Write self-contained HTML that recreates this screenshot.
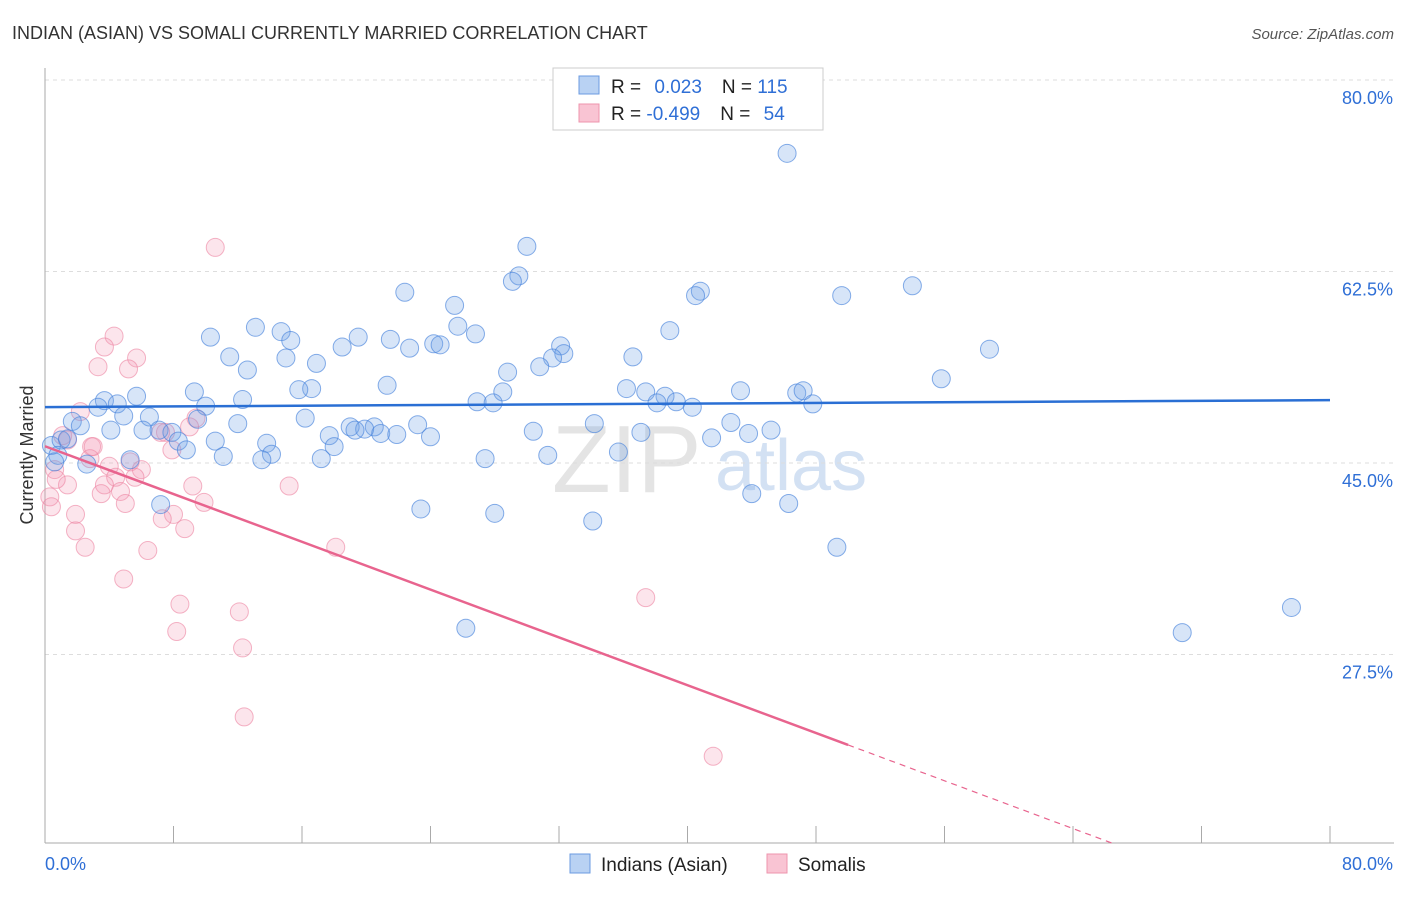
<!DOCTYPE html>
<html><head><meta charset="utf-8"><style>
body{margin:0;background:#fff;font-family:"Liberation Sans",sans-serif;}
svg text{font-family:"Liberation Sans",sans-serif;}
</style></head><body>
<svg id="chart" width="1406" height="892" xmlns="http://www.w3.org/2000/svg">
<text x="12" y="39" font-size="18" fill="#333">INDIAN (ASIAN) VS SOMALI CURRENTLY MARRIED CORRELATION CHART</text>
<text x="1394" y="39" font-size="15" fill="#555" font-style="italic" text-anchor="end">Source: ZipAtlas.com</text>
<text x="552" y="492" font-size="96" fill="#e4e4e4" font-family="Liberation Serif">ZIP</text>
<text x="715" y="490" font-size="72" fill="#d3e1f3">atlas</text>
<g id="grid"></g>
<g id="axes"></g>
<g id="marks"></g>
<text transform="translate(33,455) rotate(-90)" font-size="18" fill="#333" text-anchor="middle">Currently Married</text>
<g>
<rect x="553" y="68" width="270" height="62" fill="#fff" stroke="#ccc"/>
<rect x="579" y="76" width="20" height="18" fill="#b9d2f3" stroke="#6b9be0"/>
<rect x="579" y="104" width="20" height="18" fill="#f9c4d3" stroke="#ee94ae"/>
<text x="611" y="93" font-size="19" fill="#222">R = <tspan fill="#2f6fd6" dx="8">0.023</tspan><tspan dx="20" fill="#222">N = </tspan><tspan fill="#2f6fd6">115</tspan></text>
<text x="611" y="120" font-size="19" fill="#222">R = <tspan fill="#2f6fd6">-0.499</tspan><tspan dx="20" fill="#222">N = </tspan><tspan fill="#2f6fd6" dx="8">54</tspan></text>
</g>
<g>
<rect x="570" y="854" width="20" height="19" fill="#b9d2f3" stroke="#6b9be0"/>
<text x="601" y="871" font-size="19" fill="#222">Indians (Asian)</text>
<rect x="767" y="854" width="20" height="19" fill="#f9c4d3" stroke="#ee94ae"/>
<text x="798" y="871" font-size="19" fill="#222">Somalis</text>
</g>
</svg>
<script>
const yTicks=[80,62.5,45,27.5];
const yTickLabels=["80.0%","62.5%","45.0%","27.5%"];
const xTickCount=10;
const blueX=[46.2,30.0,29.5,29.1,54.0,40.8,40.5,49.6,22.4,25.5,13.1,25.7,14.7,38.9,10.3,19.5,26.8,21.5,15.3,18.5,24.2,24.6,22.7,32.1,58.8,32.3,31.6,36.6,11.5,15.0,16.9,30.8,12.6,28.8,55.8,21.3,16.6,15.8,36.2,9.3,43.3,37.4,28.5,46.8,47.2,38.6,5.7,12.3,3.7,26.9,38.1,39.3,27.9,47.8,4.5,10.0,3.3,40.3,4.9,6.5,16.2,9.5,42.7,34.2,12.0,23.2,1.7,2.2,19.0,20.5,19.9,19.3,4.1,6.1,7.1,45.2,30.4,7.9,37.1,43.8,20.9,21.9,17.7,24.0,41.5,10.6,8.3,13.8,18.0,8.8,35.7,14.1,11.1,31.3,27.4,17.2,13.5,5.3,2.6,0.4,1.0,1.4,0.8,0.6,44.0,46.3,23.4,28.0,34.1,7.2,49.3,26.2,70.8,77.6];
const blueY=[73.3,64.8,62.1,61.6,61.2,60.7,60.3,60.3,60.6,59.4,57.4,57.5,57.0,57.1,56.5,56.5,56.8,56.3,56.2,55.6,55.9,55.8,55.5,55.7,55.4,55.0,54.6,54.7,54.7,54.6,54.1,53.8,53.5,53.3,52.7,52.1,51.8,51.7,51.8,51.5,51.6,51.5,51.5,51.4,51.6,51.1,51.1,50.8,50.7,50.6,50.5,50.6,50.5,50.4,50.4,50.2,50.1,50.1,49.3,49.2,49.1,49.0,48.7,48.6,48.6,48.5,48.8,48.4,48.3,48.3,48.1,48.0,48.0,48.0,48.0,48.0,47.9,47.8,47.8,47.7,47.7,47.6,47.5,47.4,47.3,47.0,47.0,46.8,46.5,46.2,46.0,45.8,45.6,45.7,45.4,45.4,45.3,45.3,44.9,46.6,47.1,47.2,45.7,45.1,42.2,41.3,40.8,40.4,39.7,41.2,37.3,29.9,29.5,31.8];
const pinkX=[10.6,4.3,3.7,5.7,3.3,5.2,2.2,9.4,9.0,7.5,7.2,1.1,1.4,2.9,7.9,2.8,5.3,4.0,6.0,4.4,5.6,0.6,1.4,3.7,9.2,15.2,4.7,3.5,0.3,9.9,5.0,0.4,1.9,8.0,7.3,1.9,8.7,2.5,18.1,6.4,4.9,8.4,12.1,37.4,8.2,12.3,12.4,41.6,3.0,0.7];
const pinkY=[64.7,56.6,55.6,54.6,53.8,53.6,49.7,49.1,48.3,47.8,47.8,47.5,47.1,46.5,46.2,45.4,45.1,44.7,44.4,43.7,43.7,44.4,43.0,43.0,42.9,42.9,42.4,42.2,41.9,41.4,41.3,41.0,40.3,40.3,39.9,38.8,39.0,37.3,37.3,37.0,34.4,32.1,31.4,32.7,29.6,28.1,21.8,18.2,46.5,43.5];
const NS="http://www.w3.org/2000/svg";
const X0=45,X1=1330,Ytop=80,Ybot=843;
function sx(v){return X0+v/80*(X1-X0);}
function sy(v){return 80+(80-v)*(191.5/17.5);}
function mk(tag,attrs,parent){const e=document.createElementNS(NS,tag);for(const k in attrs)e.setAttribute(k,attrs[k]);parent.appendChild(e);return e;}
const grid=document.getElementById('grid'),axes=document.getElementById('axes'),marks=document.getElementById('marks');
yTicks.forEach((t,i)=>{
 const l=mk('line',{x1:X0,x2:1394,y1:sy(t),y2:sy(t),stroke:'#ddd','stroke-dasharray':'4,4'},grid);
 
 
 const tx=mk('text',{x:1393,y:sy(t)+24,'font-size':18,fill:'#2f6fd6','text-anchor':'end'},axes);
 tx.textContent=yTickLabels[i];
 
 
});
const ax=mk('line',{x1:X0,x2:1394,y1:Ybot,y2:Ybot,stroke:'#aaa'},axes);


const ay=mk('line',{x1:X0,x2:X0,y1:68,y2:Ybot,stroke:'#aaa'},axes);


for(let i=1;i<=xTickCount;i++){
 const v=i*80/xTickCount;
 const t=mk('line',{x1:sx(v),x2:sx(v),y1:Ybot,y2:Ybot-17,stroke:'#aaa'},axes);
 
 
}
const xl=mk('text',{x:45,y:870,'font-size':18,fill:'#2f6fd6'},axes);xl.textContent='0.0%';


const xr=mk('text',{x:1393,y:870,'font-size':18,fill:'#2f6fd6','text-anchor':'end'},axes);xr.textContent='80.0%';


function fit(xs,ys){const n=xs.length;let mx=0,my=0;for(let i=0;i<n;i++){mx+=xs[i];my+=ys[i];}mx/=n;my/=n;let a=0,b=0;for(let i=0;i<n;i++){a+=(xs[i]-mx)*(ys[i]-my);b+=(xs[i]-mx)**2;}const s=a/b;return[s,my-s*mx];}
function dots(xs,ys,fill,stroke,name){xs.forEach((x,i)=>{const c=mk('circle',{cx:sx(x),cy:sy(ys[i]),r:9,fill:fill,stroke:stroke,'stroke-width':1},marks);
 
 });}
dots(pinkX,pinkY,'rgba(244,150,178,0.25)','rgba(236,130,160,0.6)','somali-point');
dots(blueX,blueY,'rgba(110,160,230,0.28)','rgba(70,130,220,0.65)','indian-point');
const [bs,bi]=fit(blueX,blueY);
const bl=mk('line',{x1:sx(0),y1:sy(bi),x2:sx(80),y2:sy(bi+bs*80),stroke:'#2a6fd4','stroke-width':2.5},marks);


const [ps,pi]=fit(pinkX,pinkY);
const pmax=50;
const pl=mk('line',{x1:sx(0),y1:sy(pi),x2:sx(pmax),y2:sy(pi+ps*pmax),stroke:'#e8648e','stroke-width':2.5},marks);


let xend=80;const ymin=80-(Ybot-80)/(191.5/17.5);if(ps<0){xend=Math.min(80,(ymin-pi)/ps);}
const pd=mk('line',{x1:sx(pmax),y1:sy(pi+ps*pmax),x2:sx(xend),y2:sy(pi+ps*xend),stroke:'#e8648e','stroke-width':1.2,'stroke-dasharray':'6,5'},marks);


</script>
</body></html>
